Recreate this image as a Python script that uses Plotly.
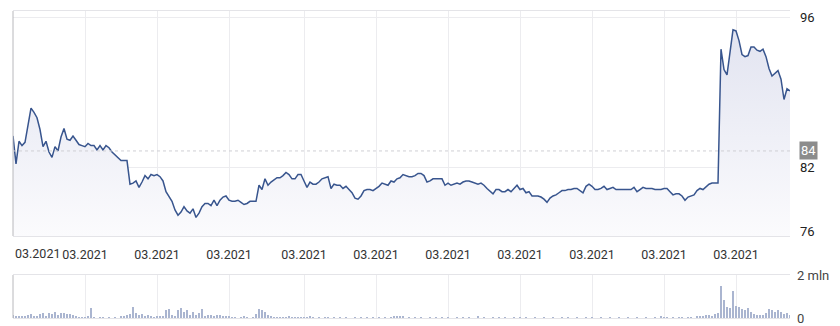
import plotly.graph_objects as go

# ---- data ----
prices = [
    84.9, 82.3, 84.4, 84.0, 84.3, 85.8, 87.5, 87.1, 86.6, 85.5,
    83.9, 84.4, 83.4, 82.9, 83.9, 83.5, 84.8, 85.6, 84.6, 84.5,
    84.9, 84.5, 84.1, 84.0, 83.9, 84.2, 84.0, 84.0, 83.6, 84.0,
    83.6, 84.0, 83.8, 83.4, 83.1, 82.8, 82.6, 82.6, 82.6, 80.4,
    80.5, 80.7, 80.1, 80.6, 81.2, 80.9, 81.3, 81.2, 81.3, 81.1,
    80.7, 79.7, 79.2, 78.8, 78.0, 77.5, 77.8, 78.3, 77.9, 77.7,
    78.1, 77.3, 77.7, 78.3, 78.6, 78.6, 78.4, 78.9, 78.4, 78.9,
    79.2, 79.3, 78.9, 78.8, 78.8, 78.9, 78.7, 78.5, 78.6, 78.8,
    78.8, 78.8, 80.3, 79.9, 80.9, 80.3, 80.6, 80.8, 81.0, 81.0,
    81.2, 81.5, 81.3, 80.9, 80.9, 81.3, 81.3, 80.7, 80.1, 80.6,
    80.4, 80.4, 80.6, 80.9, 81.0, 81.1, 80.0, 80.4, 80.3, 80.3,
    80.0, 80.2, 79.9, 79.6, 79.1, 79.0, 79.3, 79.8, 79.9, 79.9,
    79.8, 80.0, 80.2, 80.5, 80.4, 80.3, 80.7, 80.6, 80.9, 81.0,
    81.3, 81.2, 81.1, 81.1, 81.2, 81.4, 81.4, 81.2, 80.6, 80.7,
    80.9, 80.9, 80.9, 80.9, 80.3, 80.5, 80.3, 80.4, 80.5, 80.4,
    80.6, 80.7, 80.7, 80.6, 80.5, 80.4, 80.5, 80.3, 80.0, 79.7,
    79.5, 79.9, 79.9, 79.7, 79.7, 79.9, 79.7, 80.0, 80.3, 79.9,
    80.0, 79.6, 79.7, 79.3, 79.3, 79.3, 79.2, 79.0, 78.7, 79.1,
    79.3, 79.4, 79.6, 79.8, 79.8, 79.9, 79.9, 80.0, 80.0, 79.8,
    79.6, 80.2, 80.4, 80.2, 79.9, 79.9, 80.0, 80.2, 79.9, 80.0,
    80.1, 79.9, 79.9, 79.9, 79.9, 79.9, 79.9, 80.1, 79.7, 79.9,
    80.1, 80.0, 80.0, 80.0, 79.9, 79.9, 79.9, 80.0, 80.0, 79.7,
    79.4, 79.5, 79.5, 79.3, 78.9, 79.2, 79.3, 79.4, 79.8, 80.0,
    79.9, 80.2, 80.4, 80.5, 80.5, 80.5, 93.0, 91.1, 90.6, 92.8,
    94.8, 94.7, 93.8, 92.5, 92.3, 92.4, 93.2, 93.2, 92.9, 92.8,
    93.0, 92.3, 91.2, 90.5, 90.8, 91.0, 90.2, 88.3, 89.3, 89.1,
]

volumes_mln = [
    0.12, 0.10, 0.08, 0.10, 0.06, 0.15, 0.18, 0.10, 0.05, 0.20,
    0.22, 0.10, 0.25, 0.20, 0.28, 0.15, 0.25, 0.22, 0.18, 0.20,
    0.12, 0.05, 0.04, 0.03, 0.02, 0.10, 0.46, 0.04, 0.00, 0.03,
    0.02, 0.00, 0.03, 0.00, 0.02, 0.00, 0.06, 0.08, 0.12, 0.20,
    0.53, 0.25, 0.15, 0.20, 0.10, 0.15, 0.06, 0.04, 0.05, 0.08,
    0.10, 0.35, 0.40, 0.15, 0.10, 0.35, 0.46, 0.30, 0.35, 0.15,
    0.30, 0.12, 0.25, 0.40, 0.10, 0.12, 0.15, 0.05, 0.12, 0.15,
    0.10, 0.05, 0.08, 0.03, 0.04, 0.00, 0.02, 0.05, 0.03, 0.00,
    0.03, 0.20, 0.40, 0.38, 0.30, 0.15, 0.05, 0.03, 0.02, 0.04,
    0.02, 0.03, 0.05, 0.03, 0.02, 0.02, 0.04, 0.03, 0.02, 0.06,
    0.02, 0.00, 0.03, 0.00, 0.02, 0.04, 0.00, 0.02, 0.00, 0.03,
    0.00, 0.02, 0.00, 0.00, 0.03, 0.00, 0.02, 0.00, 0.04, 0.00,
    0.02, 0.00, 0.03, 0.00, 0.02, 0.00, 0.02, 0.06, 0.10, 0.08,
    0.05, 0.00, 0.02, 0.00, 0.03, 0.00, 0.02, 0.00, 0.00, 0.03,
    0.00, 0.02, 0.00, 0.03, 0.00, 0.02, 0.00, 0.00, 0.02, 0.00,
    0.03, 0.00, 0.02, 0.00, 0.00, 0.05, 0.00, 0.02, 0.00, 0.00,
    0.02, 0.00, 0.03, 0.00, 0.02, 0.00, 0.00, 0.02, 0.00, 0.03,
    0.00, 0.02, 0.00, 0.00, 0.02, 0.00, 0.00, 0.03, 0.00, 0.00,
    0.02, 0.00, 0.00, 0.03, 0.00, 0.02, 0.00, 0.00, 0.02, 0.00,
    0.00, 0.02, 0.00, 0.03, 0.00, 0.00, 0.02, 0.00, 0.00, 0.03,
    0.00, 0.00, 0.02, 0.00, 0.00, 0.02, 0.00, 0.00, 0.03, 0.00,
    0.00, 0.02, 0.00, 0.00, 0.03, 0.00, 0.05, 0.02, 0.03, 0.00,
    0.02, 0.00, 0.04, 0.03, 0.00, 0.02, 0.03, 0.00, 0.05, 0.10,
    0.08, 0.15, 0.12, 0.10, 0.20, 0.25, 1.48, 0.85, 0.50, 0.45,
    1.24, 0.55, 0.50, 0.40, 0.35, 0.45, 0.30, 0.20, 0.15, 0.12,
    0.15, 0.22, 0.40, 0.35, 0.30, 0.35, 0.30, 0.20, 0.25, 0.15,
]

days = list(range(len(prices)))
tick_days = [24, 48, 72, 97, 121, 145, 169, 193, 217, 241]
tick_labels = ["03.2021"] * len(tick_days)
first_label = "03.2021"
price_ticks = [96, 82, 76]
reference_level = 83.5
reference_label = "84"
vol_ticks = [0, 2]
vol_labels = ["0", "2 mln"]

FONT = "Roboto"
LINE = "#38558e"
GRID = "#ececef"
FS = 12.5

fig = go.Figure()

fig.add_trace(go.Scatter(
    x=days, y=prices, mode="lines",
    line=dict(color=LINE, width=1.5),
    fill="tozeroy",
    fillgradient=dict(type="vertical",
                      colorscale=[[0, "#fbfbfd"], [1, "#e1e3f0"]],
                      start=75.5, stop=95.5),
    xaxis="x", yaxis="y", hoverinfo="skip", showlegend=False,
))

fig.add_trace(go.Bar(
    x=days, y=volumes_mln, width=0.55,
    marker=dict(color="#aab5d0", line=dict(width=0)),
    xaxis="x2", yaxis="y2", hoverinfo="skip", showlegend=False,
))

xr = [0, len(prices) - 1]
common_x = dict(range=xr, tickmode="array", tickvals=tick_days,
                showgrid=True, gridcolor=GRID, gridwidth=1,
                zeroline=False, showline=True, mirror=True,
                linecolor="#e4e4e8", linewidth=1, ticks="",
                automargin=False)

fig.update_layout(
    width=840, height=326,
    margin=dict(l=13, r=50, t=11, b=8, autoexpand=False),
    paper_bgcolor="white", plot_bgcolor="white",
    font=dict(family=FONT, size=FS, color="#333"),
    bargap=0,
    xaxis=dict(**common_x, ticktext=tick_labels, showticklabels=True,
               tickfont=dict(family=FONT, size=FS, color="#333"),
               ticklabelstandoff=7, anchor="y"),
    yaxis=dict(domain=[0.267, 1.0], range=[75.56, 96.56], side="right",
               tickmode="array", tickvals=price_ticks,
               ticktext=[str(v) for v in price_ticks],
               showgrid=True, gridcolor=GRID, zeroline=False,
               showline=False, ticks="", ticklabelstandoff=9,
               automargin=False,
               tickfont=dict(family=FONT, size=13, color="#222"),
               anchor="x"),
    xaxis2=dict(**common_x, showticklabels=False, anchor="y2"),
    yaxis2=dict(domain=[0.0, 0.140], range=[0, 2], side="right",
                tickmode="array", tickvals=vol_ticks, ticktext=vol_labels,
                showgrid=False, zeroline=False, showline=False, ticks="",
                ticklabelstandoff=6, automargin=False,
                tickfont=dict(family=FONT, size=13, color="#444"),
                anchor="x2"),
)

# left border lines (darker grey)
for yref in ["y domain", "y2 domain"]:
    fig.add_shape(type="line", xref="x domain", yref=yref,
                  x0=0, x1=0, y0=0, y1=1,
                  line=dict(color="#b8b8bc", width=1))

# dotted reference level
fig.add_shape(type="line", xref="x domain", yref="y",
              x0=0, x1=1, y0=reference_level, y1=reference_level,
              line=dict(color="#cfcfd4", width=1, dash="dot"))

# reference badge
fig.add_annotation(xref="x domain", yref="y", x=1.0, y=reference_level,
                   xanchor="left", yanchor="middle", xshift=9,
                   text=reference_label, showarrow=False,
                   bgcolor="#8c8c8c", borderpad=1,
                   font=dict(family=FONT, size=13, color="white"))

# first x label, left-aligned at the plot edge
fig.add_annotation(xref="x", yref="paper", x=0, y=0.267,
                   xanchor="left", yanchor="top", yshift=-8,
                   text=first_label, showarrow=False,
                   font=dict(family=FONT, size=FS, color="#333"))

fig.write_html("out.html")
